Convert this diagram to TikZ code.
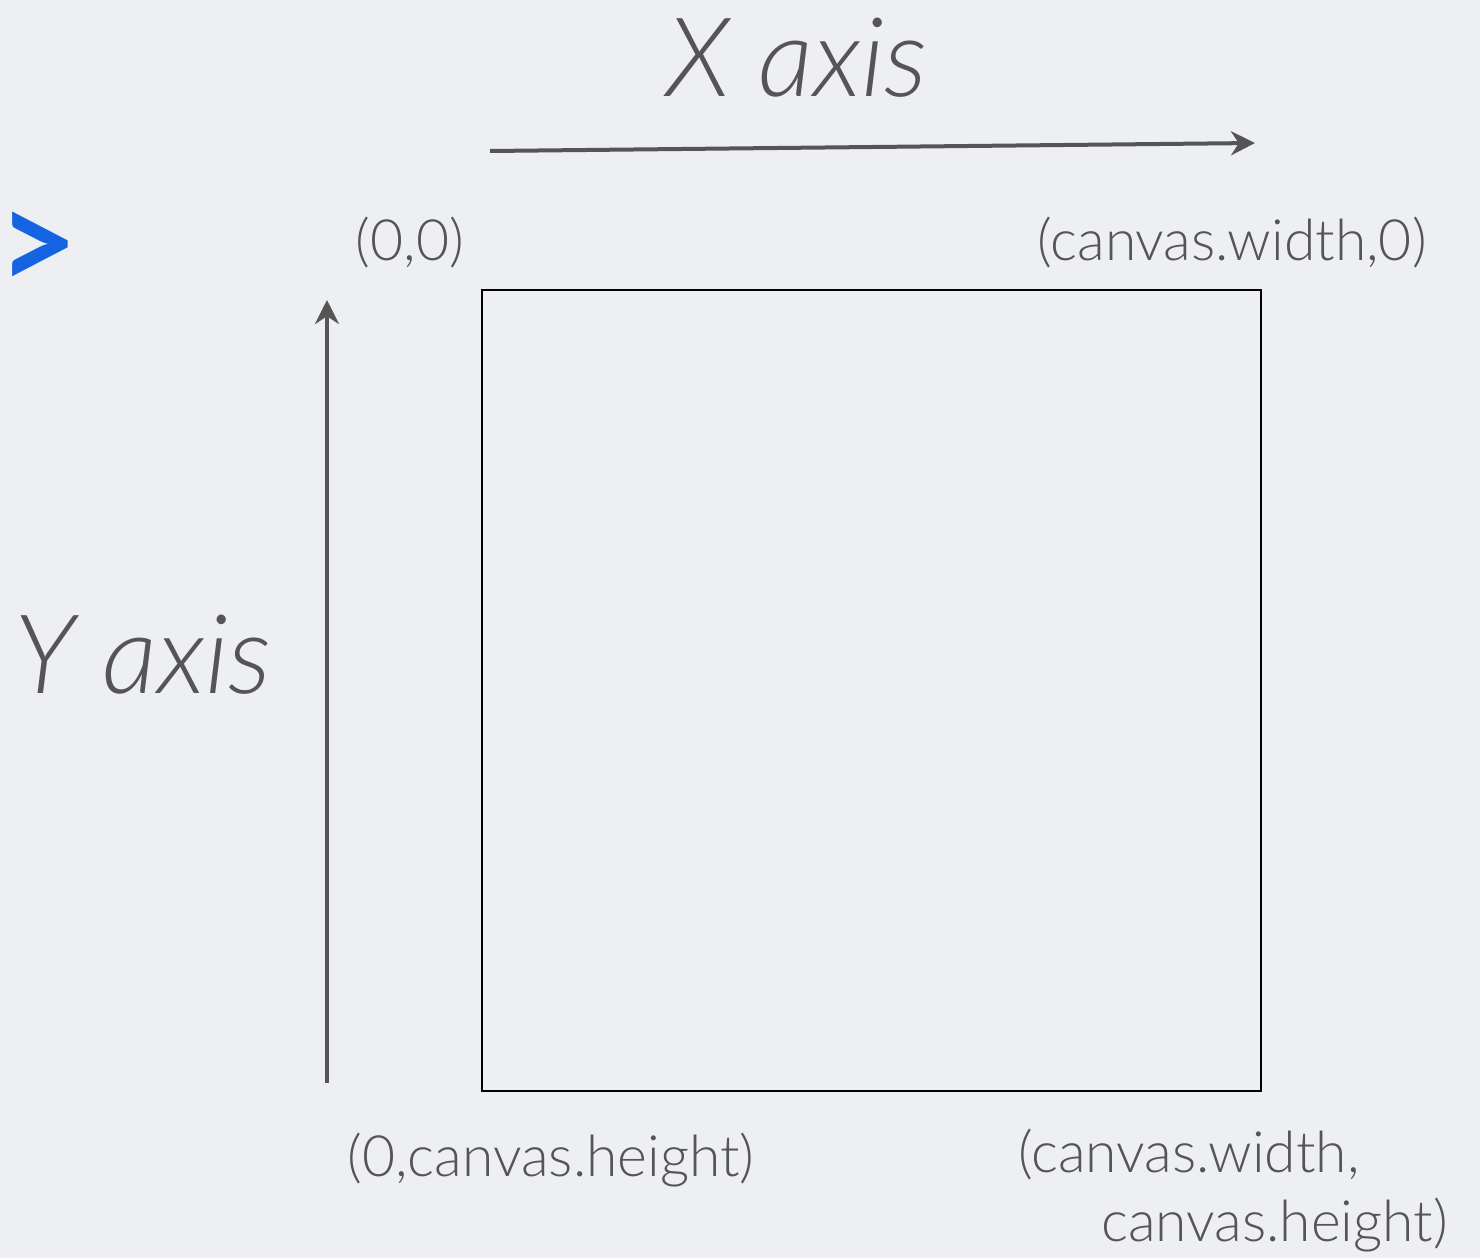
\documentclass[tikz,border=0pt]{standalone}
\usepackage{fontspec}
\setmainfont{Lato}[UprightFont=* Light, ItalicFont=* Light Italic, BoldFont=* Bold]
\newfontfamily\latoreg{Lato}
\begin{document}
\begin{tikzpicture}[x=1pt,y=-1pt,
  axis/.style={draw=axisgray,line width=4pt,-{Stealth[length=24pt,width=24pt]}},
  lbl/.style={text=axisgray,font=\fontsize{57}{66}\selectfont,inner sep=0pt},
  big/.style={text=axisgray,font=\fontsize{110}{120}\selectfont\itshape,inner sep=0pt}]
\usetikzlibrary{arrows.meta}
\definecolor{axisgray}{HTML}{555555}
\definecolor{bg}{HTML}{EEEFF3}
\definecolor{blueglyph}{HTML}{1463E0}
\fill[bg] (0,0) rectangle (1480,1258);
\useasboundingbox (0,0) rectangle (1480,1258);
\node[big] (xlabel) at (797,58) {X axis};
\coordinate (xs) at (490,151);
\coordinate (xe) at (1255,143);
\draw[axis] (xs) -- (xe);
\node[big] (ylabel) at (143,655) {Y axis};
\coordinate (ys) at (327,1083);
\coordinate (ye) at (327,300);
\draw[axis] (ys) -- (ye);
\node[draw=black,line width=2.5pt,minimum width=779pt,minimum height=801pt,inner sep=0pt] (canvas) at (871.5,690.5) {};
\node[lbl] (o) at (410,243) {(0,0)};
\node[lbl] (tr) at (1232,243) {(canvas.width,0)};
\node[lbl] (bl) at (551,1160) {(0,canvas.height)};
\node[lbl,anchor=west] (br1) at (1018,1155) {(canvas.width,};
\node[lbl,anchor=east] (br2) at (1448,1225) {canvas.height)};
\node[text=blueglyph,font=\fontsize{140}{150}\latoreg\bfseries,inner sep=0pt] (gt) at (38,252) {>};
\end{tikzpicture}
\end{document}
